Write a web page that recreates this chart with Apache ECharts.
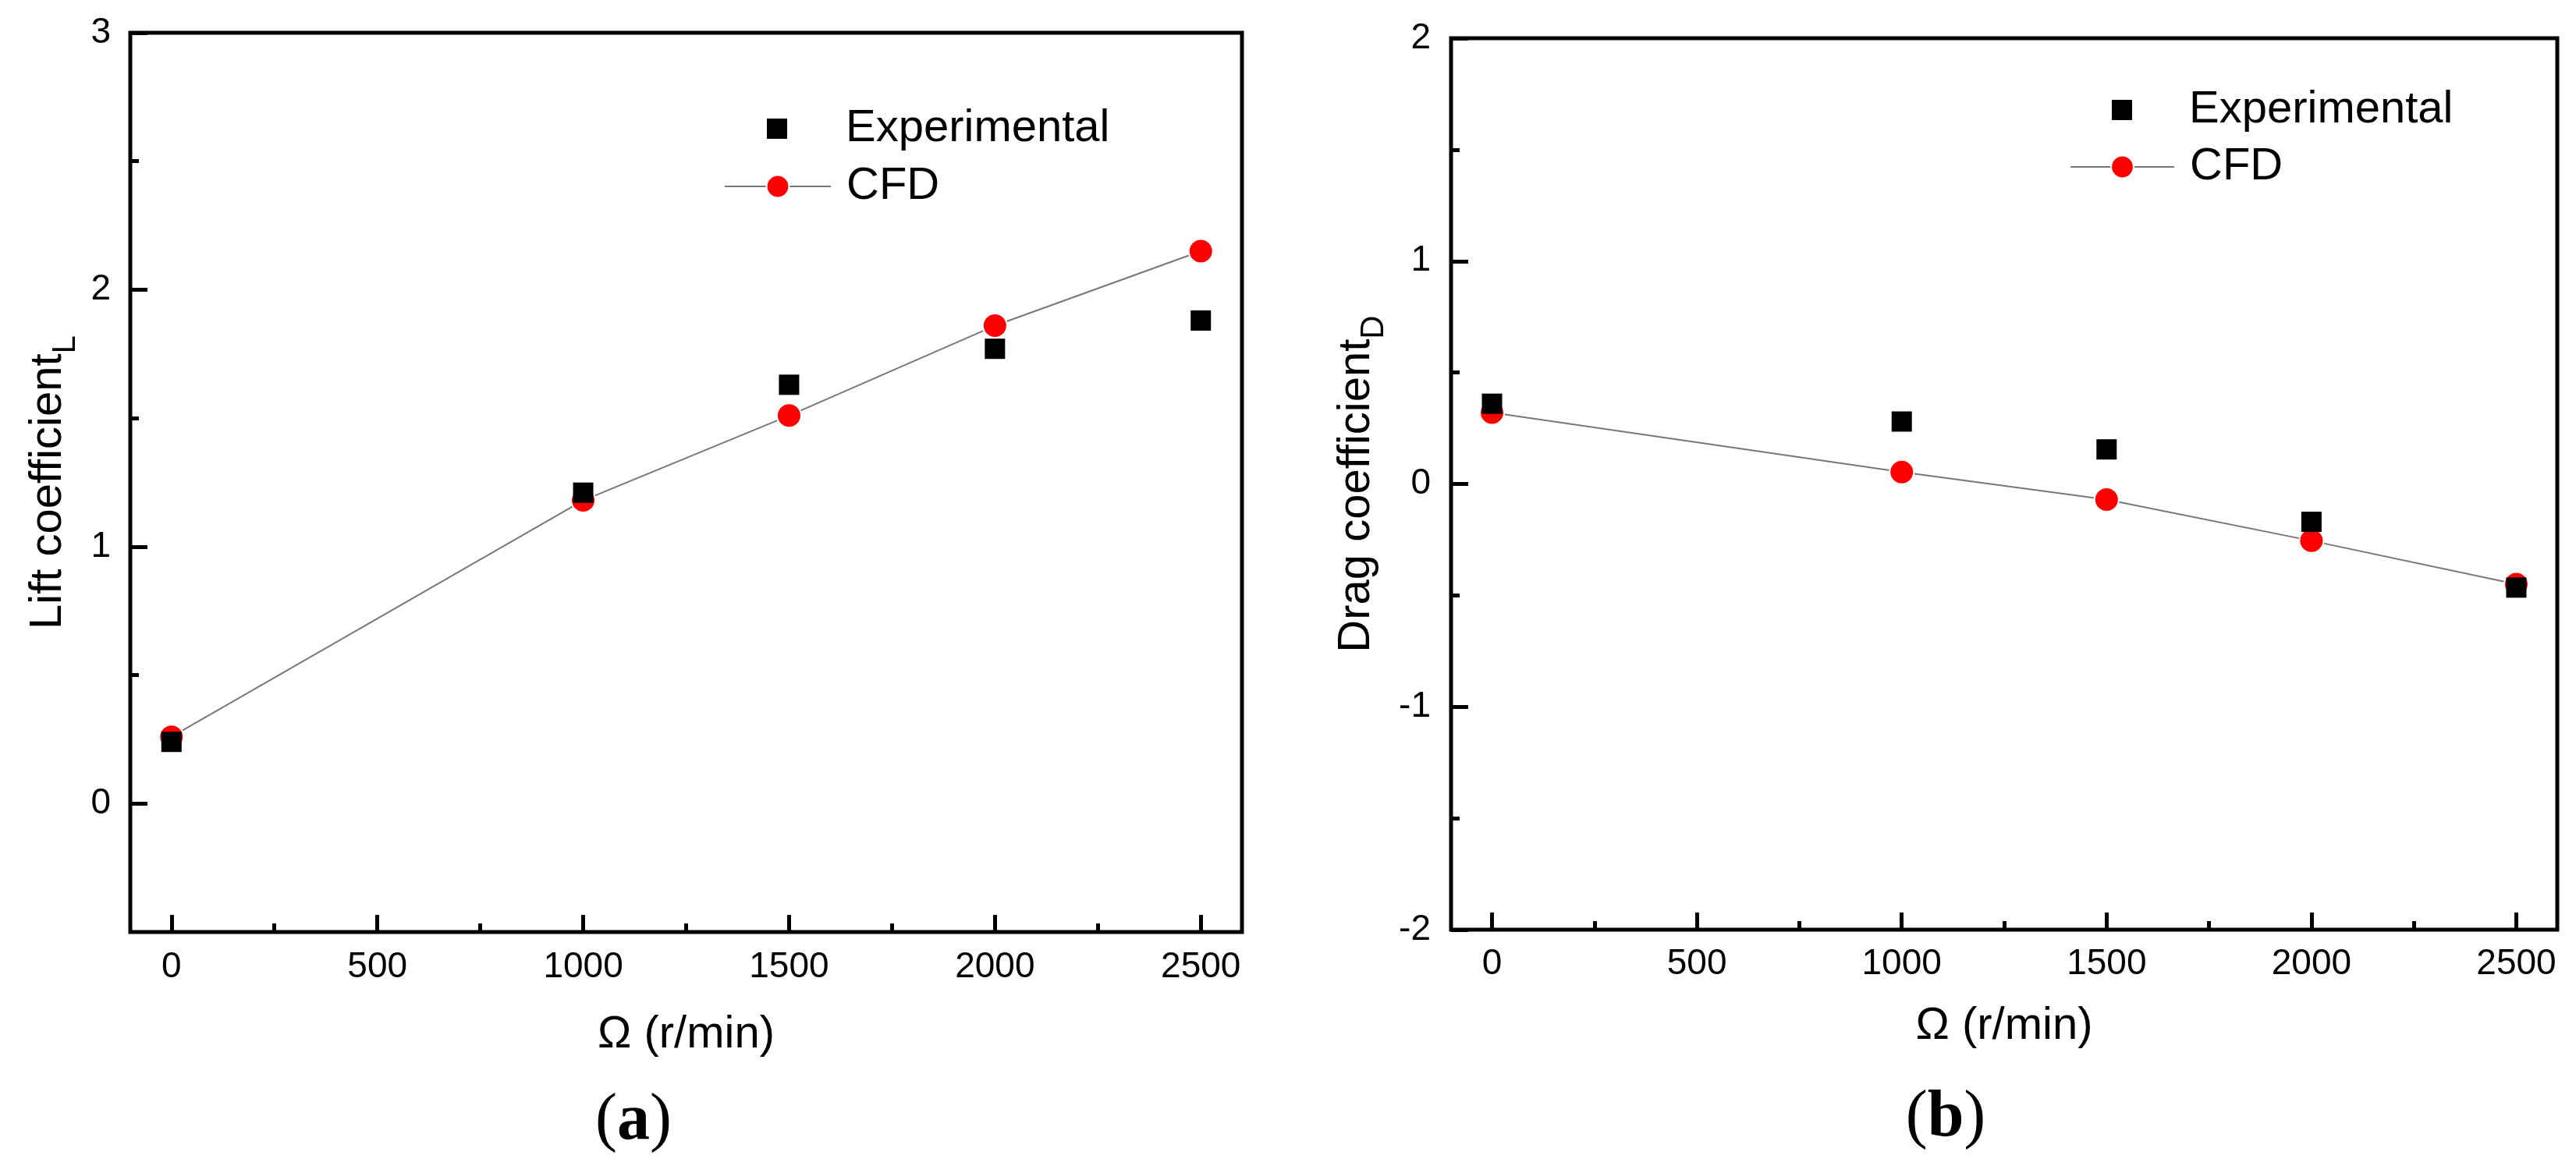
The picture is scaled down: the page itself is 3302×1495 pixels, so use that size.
<!DOCTYPE html>
<html>
<head>
<meta charset="utf-8">
<script src="https://cdn.jsdelivr.net/npm/echarts@6.0.0/dist/echarts.min.js"></script>
<style>
html, body { margin: 0; padding: 0; background: #ffffff; }
#chart { width: 3302px; height: 1495px; }
</style>
</head>
<body>
<div id="chart"></div>
<script>
// ---- data ----
const omega = [0, 1000, 1500, 2000, 2500];
const liftExperimental = [0.24, 1.21, 1.63, 1.77, 1.88];
const liftCFD = [0.26, 1.18, 1.51, 1.86, 2.15];
const dragExperimental = [0.36, 0.28, 0.155, -0.17, -0.465];
const dragCFD = [0.32, 0.053, -0.07, -0.255, -0.45];

const xMajorTicks = [0, 500, 1000, 1500, 2000, 2500];
const xMinorTicks = [250, 750, 1250, 1750, 2250];
const liftMajorTicks = [0, 1, 2, 3];
const liftMinorTicks = [0.5, 1.5, 2.5];
const dragMajorTicks = [-2, -1, 0, 1, 2];
const dragMinorTicks = [-1.5, -0.5, 0.5, 1.5];

const seriesNames = ['Experimental', 'CFD'];
const xTitle = 'Ω (r/min)';
const panelLabels = ['a', 'b'];

// ---- styling helpers ----
const SANS = "'Liberation Sans', Arial, Helvetica, sans-serif";
const SERIF = "'Liberation Serif', 'Times New Roman', serif";
const pairs = (ys) => omega.map((x, i) => [x, ys[i]]);
const plain = (v) => String(v);

function xMajor(gi, nameGap, margin) {
  return {
    gridIndex: gi, type: 'value', min: -100, max: 2600, position: 'bottom',
    axisLine: { show: false, onZero: false },
    splitLine: { show: false },
    axisTick: { show: true, inside: true, length: 22, lineStyle: { color: '#000', width: 5 }, customValues: xMajorTicks },
    axisLabel: { show: true, customValues: xMajorTicks, formatter: plain, margin: margin, fontSize: 46, color: '#000', fontFamily: SANS },
    name: xTitle, nameLocation: 'middle', nameGap: nameGap,
    nameTextStyle: { fontSize: 58, color: '#000', fontFamily: SANS }
  };
}
function xMinor(gi) {
  return {
    gridIndex: gi, type: 'value', min: -100, max: 2600, position: 'bottom',
    axisLine: { show: false, onZero: false },
    splitLine: { show: false },
    axisLabel: { show: false },
    axisTick: { show: true, inside: true, length: 11, lineStyle: { color: '#000', width: 5 }, customValues: xMinorTicks }
  };
}
function yMajor(gi, min, max, ticks, title, sub, nameGap, margin) {
  return {
    gridIndex: gi, type: 'value', min: min, max: max, position: 'left',
    axisLine: { show: false, onZero: false },
    splitLine: { show: false },
    axisTick: { show: true, inside: true, length: 22, lineStyle: { color: '#000', width: 5 }, customValues: ticks },
    axisLabel: { show: true, customValues: ticks, formatter: plain, margin: margin, fontSize: 46, color: '#000', fontFamily: SANS },
    name: '{m|' + title + '}{s|' + sub + '}', nameLocation: 'middle', nameRotate: 90, nameGap: nameGap,
    nameTextStyle: {
      color: '#000', fontFamily: SANS, fontSize: 58,
      rich: {
        m: { fontSize: 58, fontFamily: SANS, color: '#000', verticalAlign: 'top' },
        s: { fontSize: 42, fontFamily: SANS, color: '#000', verticalAlign: 'top', padding: [30, 0, 0, 0] }
      }
    }
  };
}
function yMinor(gi, min, max, ticks) {
  return {
    gridIndex: gi, type: 'value', min: min, max: max, position: 'left',
    axisLine: { show: false, onZero: false },
    splitLine: { show: false },
    axisLabel: { show: false },
    axisTick: { show: true, inside: true, length: 11, lineStyle: { color: '#000', width: 5 }, customValues: ticks }
  };
}
function expSeries(xi, yi, ys) {
  return {
    name: seriesNames[0], type: 'scatter', xAxisIndex: xi, yAxisIndex: yi,
    data: pairs(ys), symbol: 'rect', symbolSize: 26,
    itemStyle: { color: '#000000', opacity: 1 }, z: 4
  };
}
function cfdSeries(xi, yi, ys) {
  return {
    name: seriesNames[1], type: 'line', xAxisIndex: xi, yAxisIndex: yi,
    data: pairs(ys), symbol: 'circle', symbolSize: 31, showSymbol: true,
    itemStyle: { color: '#ff0000', borderColor: '#ffffff', borderWidth: 2, opacity: 1 },
    lineStyle: { color: '#777777', width: 2 }, z: 3
  };
}
// legend row: line/icon box from `left` to `left + width`; text starts at textX
function legendItem(name, left, top, width, itemHeight, textX) {
  return {
    data: [name], left: left, top: top, orient: 'vertical', padding: 0,
    itemWidth: width, itemHeight: itemHeight, selectedMode: false, symbolKeepAspect: true,
    textStyle: { fontSize: 58, color: '#000', fontFamily: SANS, padding: [0, 0, 0, textX - (left + width + 5)] }
  };
}
function panelLabel(letter, x, y) {
  return {
    type: 'text', x: x, y: y,
    style: {
      text: '{p|(}{b|' + letter + '}{p|)}',
      align: 'center', verticalAlign: 'middle', fill: '#000',
      rich: {
        p: { fontSize: 84, fontFamily: SERIF, color: '#000' },
        b: { fontSize: 84, fontFamily: SERIF, fontWeight: 'bold', color: '#000' }
      }
    }
  };
}

const chart = echarts.init(document.getElementById('chart'), null, { renderer: 'canvas' });
chart.setOption({
  backgroundColor: '#ffffff',
  animation: false,
  grid: [
    { left: 167, top: 42, width: 1425, height: 1153, show: true, borderColor: '#000', borderWidth: 5, backgroundColor: 'transparent', containLabel: false, outerBoundsMode: 'none' },
    { left: 1860, top: 49, width: 1418, height: 1143, show: true, borderColor: '#000', borderWidth: 5, backgroundColor: 'transparent', containLabel: false, outerBoundsMode: 'none' }
  ],
  xAxis: [ xMajor(0, 103, 22), xMinor(0), xMajor(1, 95, 21), xMinor(1) ],
  yAxis: [
    yMajor(0, -0.5, 3, liftMajorTicks, 'Lift coefficient', 'L', 62, 25),
    yMinor(0, -0.5, 3, liftMinorTicks),
    yMajor(1, -2, 2, dragMajorTicks, 'Drag coefficient', 'D', 78, 26),
    yMinor(1, -2, 2, dragMinorTicks)
  ],
  legend: [
    legendItem(seriesNames[0], 983, 136, 26, 26, 1084),
    legendItem(seriesNames[1], 928, 210, 136, 36, 1084),
    legendItem(seriesNames[0], 2707, 112, 26, 26, 2806),
    legendItem(seriesNames[1], 2653, 185, 133, 36, 2806)
  ],
  series: [
    cfdSeries(0, 0, liftCFD),
    expSeries(0, 0, liftExperimental),
    cfdSeries(2, 2, dragCFD),
    expSeries(2, 2, dragExperimental)
  ],
  graphic: [
    panelLabel(panelLabels[0], 812, 1438),
    panelLabel(panelLabels[1], 2494, 1434)
  ]
});
</script>
</body>
</html>
